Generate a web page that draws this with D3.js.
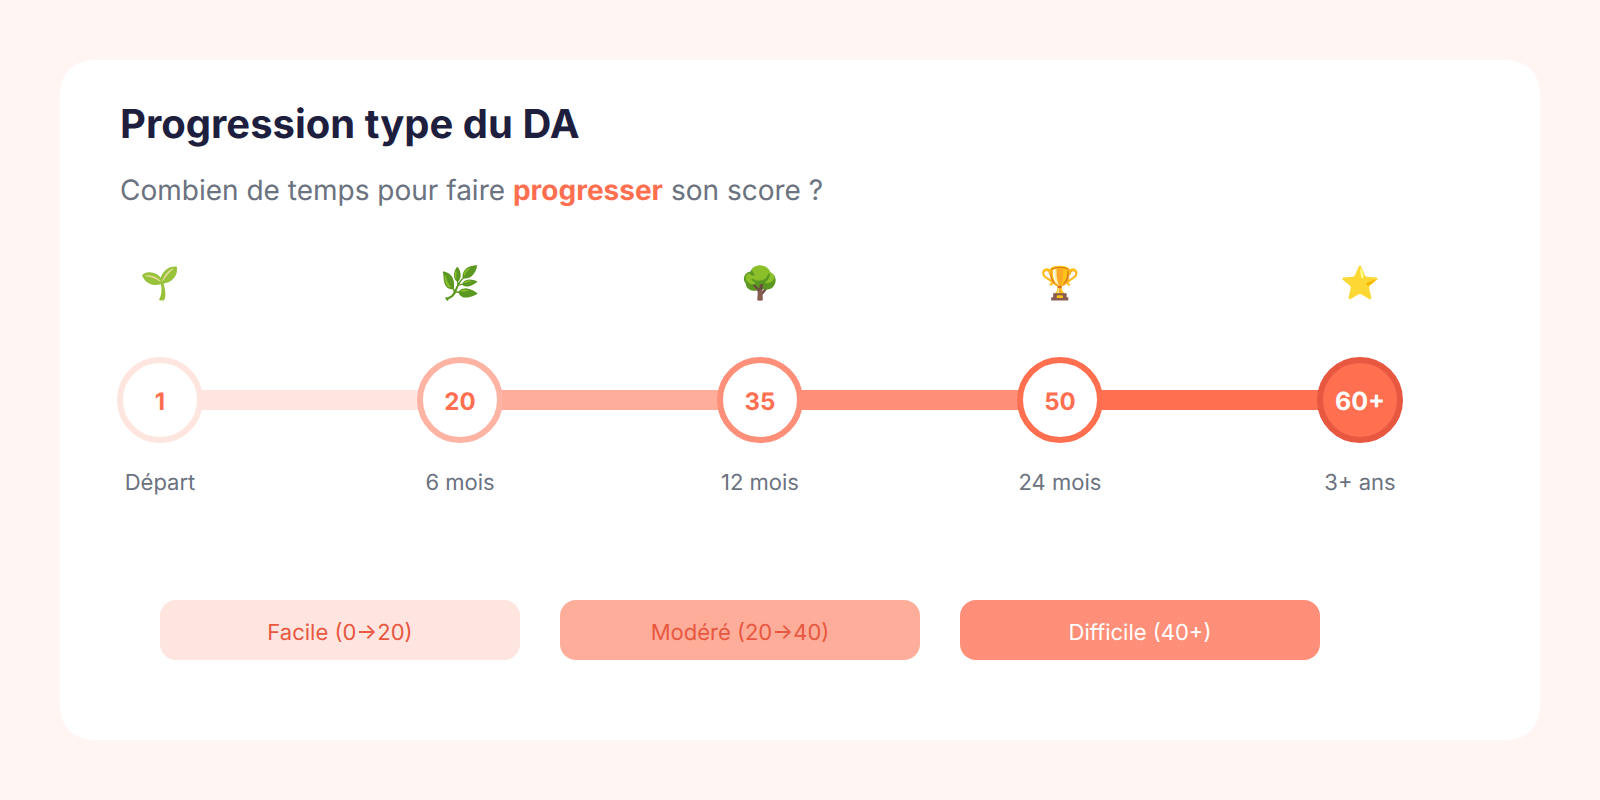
<!DOCTYPE html>
<html><head><meta charset="utf-8">
<script src="https://cdn.jsdelivr.net/npm/d3@7"></script>
<style>html,body{margin:0;padding:0;background:#FFF5F2;}svg{display:block;}text{font-family:Inter,sans-serif;text-rendering:geometricPrecision;}</style>
</head><body><svg id="c" width="1600" height="800"></svg>
<script>
const steps=["1","20","35","50","60+"];
const labels=["Départ","6 mois","12 mois","24 mois","3+ ans"];
const icons=["🌱","🌿","🌳","🏆","⭐"];
const strokeColors=["#FFE5DF","#FFB3A3","#FF8F78","#FF6F50","#E8573F"];
const segColors=["#FFE5DF","#FFAD9B","#FF8F78","#FF6F50"];
const bands=["Facile (0→20)","Modéré (20→40)","Difficile (40+)"];
const bandFill=["#FFE5DF","#FFAD9B","#FF8F78"];
const bandText=["#E8573F","#E8573F","#FFFFFF"];
const svg=d3.select("#c");
const idx=d3.range(steps.length);
const x=d3.scalePoint().domain(idx).range([160,1360]);
svg.append("rect").attr("x",60).attr("y",60).attr("width",1480).attr("height",680).attr("rx",32).attr("fill","#fff");
svg.append("text").attr("x",120).attr("y",138).attr("font-size",40).attr("font-weight",700).attr("fill","#1E1E3F").text("Progression type du DA");
const sub=svg.append("text").attr("x",120).attr("y",200).attr("font-size",28).attr("fill","#6B7280");
sub.append("tspan").text("Combien de temps pour faire ");
sub.append("tspan").attr("font-weight",700).attr("fill","#FF6F50").text("progresser");
sub.append("tspan").text(" son score ?");
svg.selectAll(".seg").data(idx.slice(0,-1)).join("rect").attr("x",i=>x(i)).attr("y",390).attr("width",i=>x(i+1)-x(i)).attr("height",20).attr("fill",i=>segColors[i]);
svg.selectAll(".node").data(idx).join("circle").attr("cx",i=>x(i)).attr("cy",400).attr("r",40).attr("stroke-width",6)
 .attr("fill",i=>i==4?"#FF6F50":"#fff").attr("stroke",i=>strokeColors[i]);
svg.selectAll(".val").data(idx).join("text").attr("x",i=>x(i)).attr("y",410).attr("text-anchor","middle").attr("font-size",i=>i==4?25:24).attr("font-weight",700).attr("fill",i=>i==4?"#fff":"#FF6F50").text(i=>steps[i]);
svg.selectAll(".ic").data(idx).join("text").attr("x",i=>x(i)).attr("y",294).attr("text-anchor","middle").attr("font-size",32).style("font-family","'Noto Color Emoji',sans-serif").text(i=>icons[i]);
svg.selectAll(".lab").data(idx).join("text").attr("x",i=>x(i)).attr("y",490).attr("text-anchor","middle").attr("font-size",22).attr("fill","#6B7280").text(i=>labels[i]);
const bx=d3.scalePoint().domain(d3.range(3)).range([160,960]);
svg.selectAll(".b").data(d3.range(3)).join("rect").attr("x",i=>bx(i)).attr("y",600).attr("width",360).attr("height",60).attr("rx",16).attr("fill",i=>bandFill[i]);
svg.selectAll(".bt").data(d3.range(3)).join("text").attr("x",i=>bx(i)+180).attr("y",640).attr("text-anchor","middle").attr("font-size",22).attr("fill",i=>bandText[i]).text(i=>bands[i]);
</script></body></html>
